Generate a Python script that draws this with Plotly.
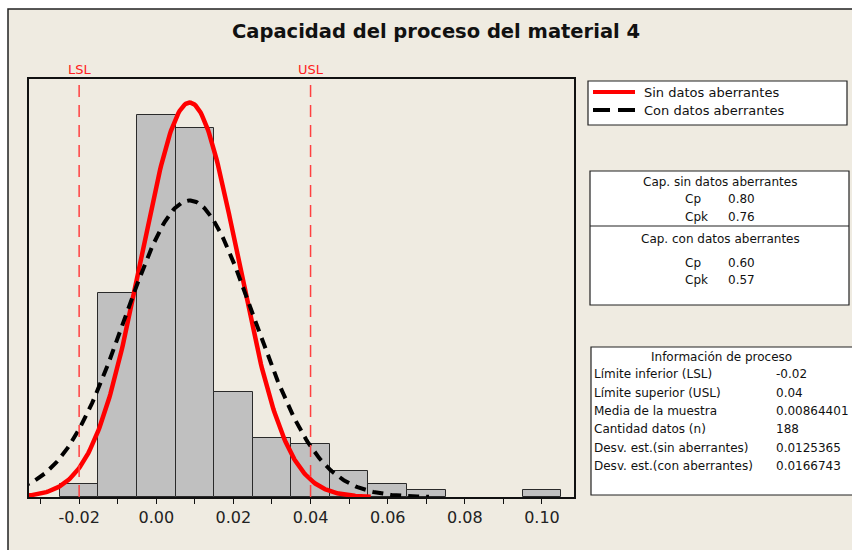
import numpy as np
import plotly.graph_objects as go

# histogram data (bin centres, counts)
bin_centers = [-0.02, -0.01, 0.00, 0.01, 0.02, 0.03, 0.04, 0.05, 0.06, 0.07, 0.10]
counts = [2, 31, 58, 56, 16, 9, 8, 4, 2, 1, 1]
bin_width = 0.01

# process info shown in the table
lsl = -0.02
usl = 0.04
mean = 0.00864401
n = 188
sd_sin = 0.0125365
sd_con = 0.0166743
cp_sin, cpk_sin = "0.80", "0.76"
cp_con, cpk_con = "0.60", "0.57"

# where each fitted curve stops on the right
end_sin = 0.0556
end_con = 0.0707

tick_vals = [-0.03, -0.02, -0.01, 0.00, 0.01, 0.02, 0.03, 0.04, 0.05, 0.06, 0.07, 0.08, 0.09, 0.10]
tick_text = ["", "-0.02", "", "0.00", "", "0.02", "", "0.04", "", "0.06", "", "0.08", "", "0.10"]

legend_names = ["Sin datos aberrantes", "Con datos aberrantes"]

info_labels = ["Límite inferior (LSL)", "Límite superior (USL)", "Media de la muestra",
               "Cantidad datos (n)", "Desv. est.(sin aberrantes)", "Desv. est.(con aberrantes)"]
info_values = ["-0.02", "0.04", "0.00864401", "188", "0.0125365", "0.0166743"]

FONT = "DejaVu Sans"
BEIGE = "#EFEBE1"
W, H = 852, 550
# plot area in pixels
L, R, T, B = 29, 574, 79, 497
FX, FY = 8, 9                # top-left corner of the beige frame


def px(x):
    return (x - L) / (R - L)


def py(y):
    return (B - y) / (B - T)


def normal_curve(sd, x_end):
    x = np.linspace(-0.04, x_end, 300)
    y = n * bin_width / (sd * np.sqrt(2 * np.pi)) * np.exp(-0.5 * ((x - mean) / sd) ** 2)
    return x, y


fig = go.Figure()

fig.add_trace(go.Bar(x=bin_centers, y=counts, width=bin_width,
                     marker=dict(color="#C0C0C0", line=dict(color="#2a2a2a", width=1)),
                     showlegend=False, hoverinfo="skip"))

xs, ys = normal_curve(sd_sin, end_sin)
fig.add_trace(go.Scatter(x=xs, y=ys, mode="lines", name=legend_names[0], showlegend=False,
                         line=dict(color="#FF0000", width=4.5)))
xc, yc = normal_curve(sd_con, end_con)
fig.add_trace(go.Scatter(x=xc, y=yc, mode="lines", name=legend_names[1], showlegend=False,
                         line=dict(color="black", width=4, dash="11px,7px")))

for v, lab in [(lsl, "LSL"), (usl, "USL")]:
    fig.add_shape(type="line", xref="x", yref="paper", x0=v, x1=v, y0=0, y1=1,
                  line=dict(color="#FF4040", width=1.5, dash="12px,8px"))
    fig.add_annotation(x=v, xref="x", y=py(69), yref="paper", text=lab, showarrow=False,
                       font=dict(family=FONT, size=13, color="#FF2020"),
                       xanchor="center", yanchor="middle")


def box(x0, x1, y0, y1, fill="white", lw=1.2):
    fig.add_shape(type="rect", xref="paper", yref="paper", x0=px(x0), x1=px(x1),
                  y0=py(y1), y1=py(y0), fillcolor=fill,
                  line=dict(color="#222", width=lw), layer="below")


def hline(x0, x1, y, color="#222", width=1.2, dash=None):
    fig.add_shape(type="line", xref="paper", yref="paper", x0=px(x0), x1=px(x1),
                  y0=py(y), y1=py(y), line=dict(color=color, width=width, dash=dash))


def text(x, y, t, anchor="left", size=12):
    fig.add_annotation(x=px(x), y=py(y), xref="paper", yref="paper", text=t, showarrow=False,
                       xanchor=anchor, yanchor="middle", font=dict(family=FONT, size=size, color="#111"))


# white page edge, then the beige frame with its top/left border
fig.add_shape(type="rect", xref="paper", yref="paper", x0=px(-5), x1=px(W + 5),
              y0=py(H + 5), y1=py(-5), fillcolor="white", line=dict(width=0), layer="below")
box(FX, W + 20, FY, H + 20, fill=BEIGE, lw=1.5)

text(436, 32, "<b>Capacidad del proceso del material 4</b>", "center", 19.5)

# legend
box(588, 847, 81, 125)
hline(593, 635, 92, color="#FF0000", width=4)
hline(593, 635, 110, color="black", width=4, dash="17px,8px")
text(642, 92, legend_names[0], size=13)
text(642, 110, legend_names[1], size=13)

# capability box
box(590, 849, 171, 305)
hline(590, 849, 226)
text(720, 182, "Cap. sin datos aberrantes", "center")
text(683, 199, "Cp")
text(726, 199, cp_sin)
text(683, 217, "Cpk")
text(726, 217, cpk_sin)
text(720, 239, "Cap. con datos aberrantes", "center")
text(683, 263, "Cp")
text(726, 263, cp_con)
text(683, 280, "Cpk")
text(726, 280, cpk_con)

# process information box
box(591, 880, 347, 495)
text(721, 357, "Información de proceso", "center")
for i, (lab, val) in enumerate(zip(info_labels, info_values)):
    yy = 374.3 + i * 18.35
    text(592, yy, lab)
    text(774, yy, val)

fig.update_layout(
    width=W, height=H,
    margin=dict(l=L, r=W - R, t=T, b=H - B),
    paper_bgcolor=BEIGE, plot_bgcolor="white",
    bargap=0, showlegend=False,
    font=dict(family=FONT, color="#111"),
    xaxis=dict(range=[-0.033, 0.1083], tickvals=tick_vals, ticktext=tick_text,
               ticks="outside", ticklen=5, tickcolor="#111", tickwidth=1,
               tickfont=dict(family=FONT, size=16, color="#222"),
               showgrid=False, zeroline=False, showline=True, mirror=True,
               linecolor="#111", linewidth=1.5),
    yaxis=dict(range=[0, 63.4], showticklabels=False, ticks="", showgrid=False,
               zeroline=False, showline=True, mirror=True, linecolor="#111", linewidth=1.5),
)

# figure fills the whole window, so drop the default body margin
fig.write_html("out.html", config={"displayModeBar": False},
               post_script="document.body.style.margin='0';")
